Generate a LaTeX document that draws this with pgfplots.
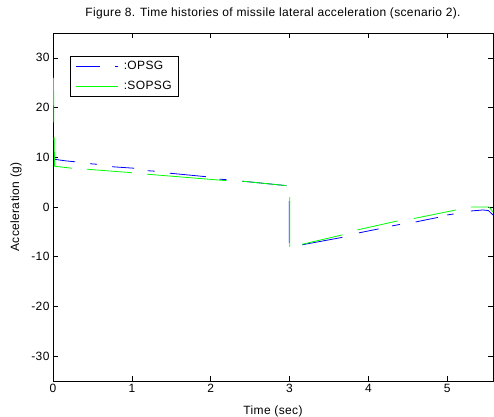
\documentclass[border=0pt]{standalone}
\usepackage{pgfplots}
\pgfplotsset{compat=1.18}
\usepackage{fontspec}
\setmainfont{Liberation Sans}[LetterSpace=3]
\begin{document}
\begin{tikzpicture}
\path[use as bounding box] (-53pt,-35pt) rectangle (441pt,381pt);
\begin{axis}[
  at={(0,0)}, anchor=south west,
  scale only axis, width=440pt, height=348pt,
  xmin=0, xmax=5.58, ymin=-35, ymax=35,
  xtick={0,1,2,3,4,5}, ytick={-30,-20,-10,0,10,20,30},
  tick align=inside, major tick length=5pt,
  axis line style={line width=0.8pt}, tick style={line width=0.6pt, black},
  font=\fontsize{12}{14}\selectfont,
  /pgf/number format/assume math mode=true,
  title={Figure 8. Time histories of missile lateral acceleration (scenario 2).},
  title style={at={(axis description cs:0.5,1)}, anchor=base, yshift=11pt},
  xlabel={Time (sec)},
  xlabel style={at={(axis description cs:0.5,0)}, anchor=base, yshift=-33pt},
  ylabel={Acceleration (g)},
  ylabel style={at={(axis description cs:-0.0841,0.5)}, anchor=center},
  unbounded coords=jump,
  legend style={at={(axis description cs:0.0386,0.934)}, anchor=north west,
    draw=black, line width=0.8pt, inner xsep=5pt, inner ysep=3pt,
    font=\fontsize{12}{14}\selectfont, row sep=6pt, nodes={inner sep=2pt}},
  legend cell align=left,
]
\addplot[blue, line width=0.8pt,
  legend image code/.code={\path[draw=none] (0pt,0pt) -- (46pt,0pt); \draw[blue, line width=0.8pt] (0pt,0pt) -- (24pt,0pt); \draw[blue, line width=0.8pt] (39pt,0pt) -- (42pt,0pt);}]
  coordinates {
  (0,10) (0.02,9.6) (0.15,9.3) (0.28,9.1) (0.28,nan)
  (0.47,8.7) (0.56,8.6) (0.56,nan)
  (0.75,8.1) (1.03,7.8) (1.03,nan)
  (1.2,7.3) (1.29,7.2) (1.29,nan)
  (1.48,6.8) (1.94,6.1) (1.94,nan)
  (2.11,5.6) (2.2,5.5) (2.2,nan)
  (2.4,5.2) (2.96,4.3) (2.96,nan)
  (2.997,1.2) (2.997,-7.2) (2.997,nan)
  (3.16,-7.6) (3.67,-6.1) (3.67,nan)
  (3.88,-5.2) (4.13,-4.4) (4.13,nan)
  (4.3,-3.8) (4.4,-3.5) (4.4,nan)
  (4.6,-3.0) (4.88,-2.1) (4.88,nan)
  (5.0,-1.6) (5.08,-1.4) (5.08,nan)
  (5.3,-0.8) (5.45,-0.6) (5.52,-0.7) (5.58,-1.6)
  };
\addlegendentry{:OPSG}
\addplot[green, line width=0.8pt,
  legend image code/.code={\path[draw=none] (0pt,0pt) -- (46pt,0pt); \draw[green, line width=0.8pt] (0pt,0pt) -- (42pt,0pt);}]
  coordinates {
  (0.007,26) (0.009,17) (0.009,nan)
  (0.014,14) (0.02,8.2) (0.24,7.8) (0.24,nan)
  (0.43,7.6) (1.0,6.9) (1.0,nan)
  (1.19,6.6) (2.2,5.3) (2.2,nan)
  (2.4,5.2) (2.96,4.3) (2.96,nan)
  (3.003,2) (3.003,-8) (3.003,nan)
  (3.16,-7.5) (3.67,-5.6) (3.67,nan)
  (3.86,-4.6) (4.37,-2.8) (4.37,nan)
  (4.58,-2.3) (5.11,-0.6) (5.11,nan)
  (5.3,0) (5.53,0) (5.58,-1)
  };
\addlegendentry{:SOPSG}
\end{axis}
\end{tikzpicture}
\end{document}
